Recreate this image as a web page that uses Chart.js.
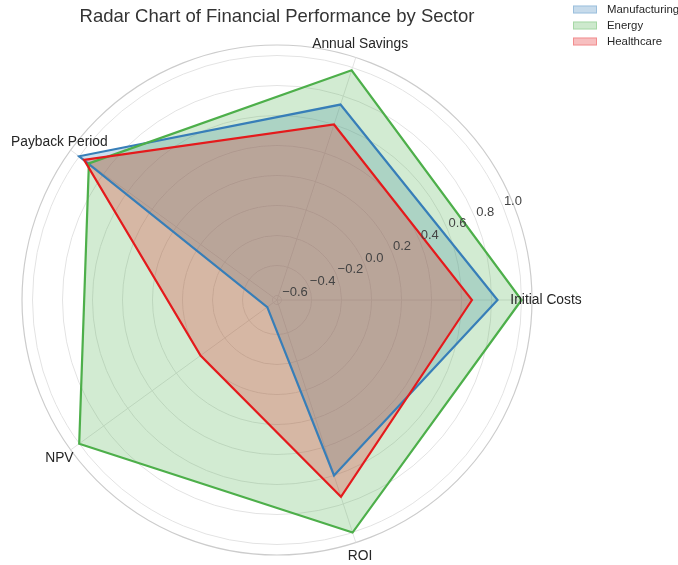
<!DOCTYPE html>
<html>
<head>
<meta charset="utf-8">
<script src="https://cdn.jsdelivr.net/npm/chart.js@4.4.0/dist/chart.umd.min.js"></script>
<style>
  html, body { margin: 0; padding: 0; background: #fff; }
  #wrap { width: 678px; height: 565px; }
</style>
</head>
<body>
<div id="wrap"><canvas id="radar" width="678" height="565"></canvas></div>
<script>
// Values, in matplotlib order (counter-clockwise from the right).
const categories = ["Initial Costs", "Annual Savings", "Payback Period", "NPV", "ROI"];
const manufacturing = [0.84, 0.74, 1.00, -0.55, 0.60];
const energy = [1.00, 0.98, 0.92, 1.00, 1.00];
const healthcare = [0.67, 0.60, 0.96, 0.00, 0.75];
const seriesNames = ["Manufacturing", "Energy", "Healthcare"];
const seriesColors = ["#377eb8", "#4daf4a", "#e41a1c"];
const rTicks = [-0.6, -0.4, -0.2, 0.0, 0.2, 0.4, 0.6, 0.8, 1.0];
const rMin = -0.63;
const rMax = 1.07;
const chartTitle = "Radar Chart of Financial Performance by Sector";

(function () {
    const FONT = '"Liberation Sans", Arial, sans-serif';
    const TEXT = "#262626";

    // Chart.js walks clockwise, the reference goes counter-clockwise: reorder.
    const order = [0, 4, 3, 2, 1];
    const pick = (arr) => order.map((i) => arr[i]);

    const hexToRgba = (hex, a) => {
        const n = parseInt(hex.slice(1), 16);
        return `rgba(${(n >> 16) & 255}, ${(n >> 8) & 255}, ${n & 255}, ${a})`;
    };

    const allSeries = [manufacturing, energy, healthcare];
    const datasets = allSeries.map((vals, k) => ({
        label: seriesNames[k],
        data: pick(vals),
        borderColor: seriesColors[k],
        backgroundColor: hexToRgba(seriesColors[k], 0.25),
        borderWidth: 2.2,
        pointRadius: 0,
        fill: "start",
        tension: 0,
        order: allSeries.length - k,   // last series ends up on top
    }));

    const fmt = (v) => (v < 0 ? "\u2212" : "") + Math.abs(v).toFixed(1);

    const overlay = {
        id: "overlay",
        afterDatasetsDraw(chart) {
            // r tick labels along the 22.5 deg ray, like matplotlib
            const s = chart.scales.r;
            const ctx = chart.ctx;
            const a = 22.5 * Math.PI / 180;
            ctx.save();
            ctx.font = `13px ${FONT}`;
            ctx.fillStyle = "#444444";
            ctx.textAlign = "left";
            ctx.textBaseline = "bottom";
            rTicks.forEach((v) => {
                const d = s.getDistanceFromCenterForValue(v);
                ctx.fillText(fmt(v), s.xCenter + d * Math.cos(a) + 1, s.yCenter - d * Math.sin(a) + 1);
            });
            ctx.restore();
        },
        afterDraw(chart) {
            const s = chart.scales.r;
            const ctx = chart.ctx;
            ctx.save();
            // axis labels, centred just outside the frame
            ctx.font = `13.8px ${FONT}`;
            ctx.fillStyle = TEXT;
            ctx.textAlign = "center";
            ctx.textBaseline = "middle";
            pick(categories).forEach((lab, i) => {
                const p = s.getPointPosition(i, s.drawingArea + 14);
                ctx.fillText(lab, p.x, p.y);
            });
            // title
            ctx.font = `18.5px ${FONT}`;
            ctx.fillStyle = "#333333";
            ctx.fillText(chartTitle, s.xCenter, 17);
            // legend (top right, clipped like the reference)
            ctx.font = `11.4px ${FONT}`;
            ctx.textAlign = "left";
            seriesNames.forEach((name, k) => {
                const y = 9.5 + k * 16;
                ctx.fillStyle = hexToRgba(seriesColors[k], 0.28);
                ctx.fillRect(573, y - 4, 24, 8);
                ctx.strokeStyle = hexToRgba(seriesColors[k], 0.3);
                ctx.lineWidth = 1;
                ctx.strokeRect(573.5, y - 3.5, 23, 7);
                ctx.fillStyle = TEXT;
                ctx.fillText(name, 607, y);
            });
            ctx.restore();
        },
    };

    new Chart(document.getElementById("radar"), {
        type: "radar",
        data: { labels: pick(categories), datasets },
        options: {
            responsive: false,
            animation: false,
            layout: { padding: { left: 22, top: 45, right: 146, bottom: 10 } },
            plugins: {
                legend: { display: false },
                title: { display: false },
                tooltip: { enabled: false },
                // matplotlib puts every fill under every line
                filler: { drawTime: "beforeDatasetsDraw" },
            },
            scales: {
                r: {
                    min: rMin,
                    max: rMax,
                    startAngle: 90,
                    afterBuildTicks: (scale) => {
                        scale.ticks = rTicks.concat([rMax]).map((v) => ({ value: v }));
                    },
                    ticks: { display: false },
                    pointLabels: { display: false },
                    grid: {
                        circular: true,
                        color: (c) => (c.tick && c.tick.value >= rMax ? "#cccccc" : "#e3e3e3"),
                        lineWidth: (c) => (c.tick && c.tick.value >= rMax ? 1.2 : 1),
                    },
                    angleLines: { color: "#e3e3e3", lineWidth: 1 },
                },
            },
        },
        plugins: [overlay],
    });
})();
</script>
</body>
</html>
